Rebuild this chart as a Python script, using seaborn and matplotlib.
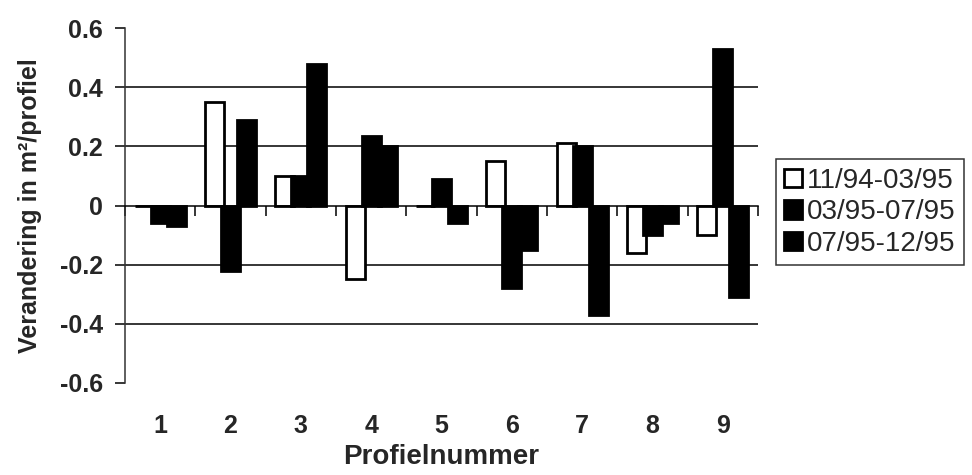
import numpy as np
import pandas as pd
import matplotlib
matplotlib.use("Agg")
import matplotlib.pyplot as plt
import seaborn as sns
from matplotlib.ticker import FuncFormatter

# ---- data ----
profielen = ["1", "2", "3", "4", "5", "6", "7", "8", "9"]
periodes = ["11/94-03/95", "03/95-07/95", "07/95-12/95"]
p1 = [0.0, 0.35, 0.10, -0.25, 0.0, 0.15, 0.21, -0.16, -0.10]
p2 = [-0.06, -0.22, 0.10, 0.235, 0.09, -0.28, 0.20, -0.10, 0.53]
p3 = [-0.07, 0.29, 0.48, 0.20, -0.06, -0.15, -0.37, -0.06, -0.31]
y_ticks = [-0.6, -0.4, -0.2, 0.0, 0.2, 0.4, 0.6]

sns.set_style("white")
plt.rcParams["font.family"] = ["Liberation Sans", "DejaVu Sans"]
plt.rcParams["axes.unicode_minus"] = False

df = pd.DataFrame({
    "Profiel": np.tile(profielen, 3),
    "Periode": np.repeat(periodes, len(profielen)),
    "Waarde": p1 + p2 + p3,
})

W, H = 972, 475
fig = plt.figure(figsize=(W / 100, H / 100), dpi=100)
ax = fig.add_axes([125 / W, 1 - 383 / H, (758 - 125) / W, (383 - 28) / H])

sns.barplot(data=df, x="Profiel", y="Waarde", hue="Periode", order=profielen,
            hue_order=periodes, palette=["white", "black", "black"],
            saturation=1, width=0.68, edgecolor="black", linewidth=2,
            errorbar=None, ax=ax, zorder=2)

# overlapping bars (as in the original)
for p in ax.patches:
    c = p.get_x() + p.get_width() / 2
    p.set_width(0.27)
    p.set_x(c - 0.135)

ax.set_xlim(-0.5, len(profielen) - 0.5)
ax.set_ylim(y_ticks[0], y_ticks[-1])

# gridlines at interior ticks
for v in y_ticks[1:-1]:
    if v != 0:
        ax.axhline(v, color="black", lw=1.1, zorder=0)

for s in ["top", "right"]:
    ax.spines[s].set_visible(False)
ax.spines["bottom"].set_position(("data", 0))
ax.spines["bottom"].set_color("black")
ax.spines["bottom"].set_linewidth(1.1)
ax.spines["bottom"].set_zorder(3)
ax.spines["left"].set_color("#333333")
ax.spines["left"].set_linewidth(1.1)

ax.set_yticks(y_ticks)
ax.yaxis.set_major_formatter(FuncFormatter(lambda v, _: "0" if abs(v) < 1e-9 else f"{v:.1f}"))
ax.tick_params(axis="y", direction="out", length=7, width=1.1, color="black",
               labelsize=18, pad=9, left=True)
for lbl in ax.get_yticklabels():
    lbl.set_fontweight("bold")

ax.set_xticks(np.arange(len(profielen) + 1) - 0.5, labels=[""] * (len(profielen) + 1))
ax.tick_params(axis="x", direction="out", length=7, width=1.1, color="black", bottom=True)
ax.set_xlabel("")

sec = ax.secondary_xaxis("bottom")
sec.set_xticks(np.arange(len(profielen)), labels=profielen)
sec.tick_params(length=0, pad=22, labelsize=18)
for lbl in sec.get_xticklabels():
    lbl.set_fontweight("bold")
sec.spines["bottom"].set_visible(False)
sec.set_xlabel("Profielnummer", fontsize=20, fontweight="bold", labelpad=5)

ax.set_ylabel("Verandering in m²/profiel", fontsize=18, fontweight="bold")
ax.yaxis.set_label_coords((42 - 125) / (758 - 125), 0.5)

handles, labels = ax.get_legend_handles_labels()
leg = ax.legend(handles, labels, loc="lower left",
                bbox_to_anchor=(776 / W, 1 - 265 / H), bbox_transform=fig.transFigure,
                fontsize=20, frameon=True, fancybox=False, shadow=False,
                handlelength=0.65, handleheight=0.65, handletextpad=0.15,
                labelspacing=0.2, borderpad=0.3, borderaxespad=0)
leg.get_frame().set_edgecolor("black")
leg.get_frame().set_linewidth(1.1)
for h in leg.legend_handles:
    h.set_edgecolor("black")
    h.set_linewidth(2)

fig.savefig("out.png", dpi=100)
